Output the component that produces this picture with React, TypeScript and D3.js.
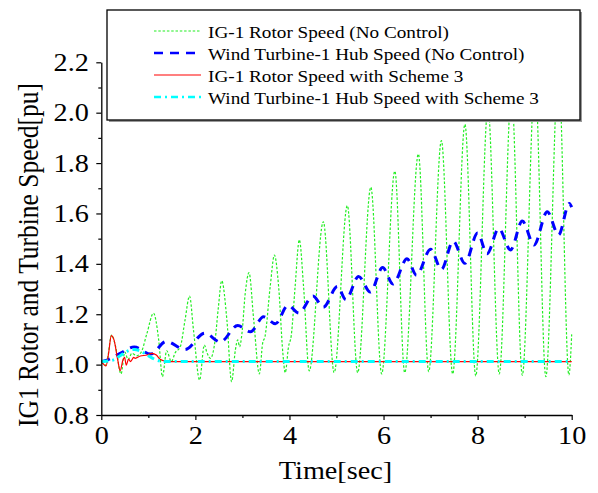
import React, { useEffect, useRef } from "react";
import * as d3 from "d3";

const W = 598;
const H = 493;

const xMajorTicks = [0, 2, 4, 6, 8, 10];
const xMinorTicks = [1, 3, 5, 7, 9];
const yMajorTicks = [0.8, 1.0, 1.2, 1.4, 1.6, 1.8, 2.0, 2.2];
const yMinorTicks = [0.9, 1.1, 1.3, 1.5, 1.7, 1.9, 2.1];

const xTitle = "Time[sec]";
const yTitle = "IG1 Rotor and Turbine Speed[pu]";

const seriesNames = [
  "IG-1 Rotor Speed (No Control)",
  "Wind Turbine-1 Hub Speed (No Control)",
  "IG-1 Rotor Speed with Scheme 3",
  "Wind Turbine-1 Hub Speed with Scheme 3",
];

// IG-1 rotor speed, no control [time, pu]
const rotorNoControl: [number, number][] = [
  [0, 1.012], [0.1, 0.998], [0.22, 1.117], [0.3, 1.075], [0.42, 0.963],
  [0.5, 1.05], [0.57, 1.02], [0.65, 1.045], [0.75, 1.035], [0.85, 1.05],
  [0.97, 1.124], [1.11, 1.204], [1.22, 1.098], [1.3, 0.952], [1.39, 1.055],
  [1.49, 1.012], [1.57, 1.047], [1.68, 1.071], [1.78, 1.177], [1.876, 1.272],
  [1.96, 1.137], [2.09, 0.939], [2.19, 1.078], [2.25, 1.045], [2.32, 1.025],
  [2.42, 1.098], [2.49, 1.23], [2.56, 1.333], [2.67, 1.177], [2.77, 0.932],
  [2.85, 1.058], [2.9, 1.098], [2.94, 1.071], [2.99, 1.124], [3.06, 1.283],
  [3.14, 1.365], [3.24, 1.177], [3.36, 0.963], [3.43, 1.085], [3.48, 1.111],
  [3.59, 1.309], [3.68, 1.435], [3.77, 1.309], [3.86, 1.045], [3.91, 0.968],
  [3.98, 1.071], [4.04, 1.118], [4.12, 1.309], [4.21, 1.495], [4.3, 1.309],
  [4.42, 0.975], [4.72, 1.567], [4.95, 0.968], [5.23, 1.631], [5.45, 0.968],
  [5.73, 1.704], [5.96, 0.963], [6.24, 1.768], [6.45, 0.968], [6.74, 1.836],
  [6.96, 0.972], [7.23, 1.889], [7.47, 0.963], [7.73, 1.954], [7.96, 0.955],
  [8.22, 2.02], [8.46, 0.963], [8.72, 2.08], [8.95, 0.958], [9.22, 2.13],
  [9.45, 0.952], [9.72, 2.18], [9.94, 0.959], [10.0, 1.12],
];

// Wind turbine-1 hub speed, no control
const hubNoControl: [number, number][] = [
  [0, 1.012], [0.15, 1.02], [0.4, 1.045], [0.7, 1.07], [1.05, 1.042],
  [1.38, 1.092], [1.78, 1.06], [2.2, 1.125], [2.53, 1.09], [2.9, 1.155],
  [3.17, 1.13], [3.45, 1.19], [3.7, 1.162], [3.97, 1.235], [4.2, 1.205],
  [4.5, 1.272], [4.72, 1.228], [5.02, 1.31], [5.2, 1.258], [5.47, 1.35],
  [5.72, 1.288], [5.98, 1.385], [6.2, 1.32], [6.5, 1.42], [6.7, 1.355],
  [7.0, 1.458], [7.23, 1.378], [7.48, 1.49], [7.73, 1.402], [8.0, 1.522],
  [8.2, 1.44], [8.45, 1.54], [8.7, 1.455], [8.95, 1.57], [9.2, 1.475],
  [9.48, 1.607], [9.72, 1.515], [9.95, 1.64], [10.0, 1.625],
];

// IG-1 rotor speed with scheme 3
const rotorScheme3: [number, number][] = [
  [0, 1.013], [0.1, 0.995], [0.155, 1.045], [0.212, 1.115], [0.27, 1.098],
  [0.35, 1.018], [0.4, 0.976], [0.46, 1.018], [0.495, 1.029], [0.53, 0.998],
  [0.58, 1.022], [0.62, 1.012], [0.69, 1.029], [0.72, 1.025], [0.83, 1.034],
  [0.97, 1.038], [1.08, 1.045], [1.17, 1.038], [1.25, 1.021], [1.36, 1.014],
  [1.5, 1.012], [10.0, 1.012],
];

// Wind turbine-1 hub speed with scheme 3
const hubScheme3: [number, number][] = [
  [0, 1.012], [0.25, 1.018], [0.4, 1.035], [0.55, 1.053], [0.7, 1.06],
  [0.85, 1.052], [1.0, 1.035], [1.15, 1.02], [1.3, 1.013], [1.5, 1.012],
  [10.0, 1.012],
];

const allSeries = [rotorNoControl, hubNoControl, rotorScheme3, hubScheme3];
const colors = ["#22ee22", "#0000ff", "#ff0000", "#00ffff"];
const widths = [1.2, 3, 1.2, 3];
const dashes = ["2.5,1.8", "9,7", "none", "7,4,2,4"];

const FONT = "'Liberation Serif', 'Times New Roman', Times, serif";
const SX = 1.13; // horizontal stretch of the original figure's lettering

export default function App() {
  const xAxisRef = useRef<SVGGElement>(null);
  const xMinorRef = useRef<SVGGElement>(null);
  const yAxisRef = useRef<SVGGElement>(null);
  const yMinorRef = useRef<SVGGElement>(null);

  const x = d3.scaleLinear().domain([0, 10]).range([101.3, 571.7]);
  const y = d3.scaleLinear().domain([0.8, 2.2]).range([415, 62.3]);

  const line = d3
    .line<[number, number]>()
    .x((d) => x(d[0]))
    .y((d) => y(d[1]))
    .curve(d3.curveMonotoneX);

  useEffect(() => {
    const style = (g: d3.Selection<SVGGElement, unknown, null, undefined>) => {
      g.attr("font-family", FONT).attr("font-size", 25);
      g.selectAll(".domain").attr("stroke", "#000").attr("stroke-width", 1.3);
      g.selectAll(".tick line").attr("stroke", "#000").attr("stroke-width", 1.2);
      g.selectAll(".tick text")
        .attr("font-family", FONT)
        .attr("font-size", 25)
        .attr("fill", "#000")
        .attr("transform", `scale(${SX},1)`);
    };
    const xa = d3.select(xAxisRef.current!);
    xa.call(
      d3.axisBottom(x).tickValues(xMajorTicks).tickFormat(d3.format("d")).tickSize(5).tickSizeOuter(0).tickPadding(6)
    );
    style(xa);
    const xm = d3.select(xMinorRef.current!);
    xm.call(d3.axisBottom(x).tickValues(xMinorTicks).tickFormat(() => "").tickSize(3).tickSizeOuter(0));
    xm.select(".domain").remove();
    style(xm);

    const ya = d3.select(yAxisRef.current!);
    ya.call(
      d3.axisLeft(y).tickValues(yMajorTicks).tickFormat(d3.format(".1f")).tickSize(5).tickSizeOuter(0).tickPadding(6)
    );
    style(ya);
    const ym = d3.select(yMinorRef.current!);
    ym.call(d3.axisLeft(y).tickValues(yMinorTicks).tickFormat(() => "").tickSize(3).tickSizeOuter(0));
    ym.select(".domain").remove();
    style(ym);
  }, []);

  const legendX = 107;
  const legendY = 10;
  const legendW = 473;
  const legendH = 110;
  const rowY = [31, 53, 75, 97];

  return (
    <svg
      width={W}
      height={H}
      style={{ position: "absolute", left: 0, top: 0, display: "block", background: "#fff" }}
    >
      <rect x={0} y={0} width={W} height={H} fill="#fff" />
      {allSeries.map((s, i) => (
        <path
          key={i}
          d={line(s) || ""}
          fill="none"
          stroke={colors[i]}
          strokeWidth={widths[i]}
          strokeDasharray={dashes[i]}
          strokeLinejoin="round"
        />
      ))}
      <g ref={xAxisRef} transform={`translate(0,${y(0.8)})`} />
      <g ref={xMinorRef} transform={`translate(0,${y(0.8)})`} />
      <g ref={yAxisRef} transform={`translate(${x(0)},0)`} />
      <g ref={yMinorRef} transform={`translate(${x(0)},0)`} />

      <text
        transform={`translate(${x(5) - 1},479) scale(${SX},1)`}
        textAnchor="middle"
        fontFamily={FONT}
        fontSize={25}
        fill="#000"
      >
        {xTitle}
      </text>
      <text
        transform={`translate(38,255) rotate(-90) scale(1,${SX})`}
        textAnchor="middle"
        fontFamily={FONT}
        fontSize={25.5}
        fill="#000"
      >
        {yTitle}
      </text>

      <g>
        <rect x={legendX + 2} y={legendY + 2} width={legendW} height={legendH} fill="#999" />
        <rect x={legendX} y={legendY} width={legendW} height={legendH} fill="#fff" stroke="#000" strokeWidth={1.3} />
        {seriesNames.map((name, i) => (
          <g key={name}>
            <line
              x1={154}
              x2={201}
              y1={rowY[i]}
              y2={rowY[i]}
              stroke={colors[i]}
              strokeWidth={i % 2 === 1 ? 2.5 : 1.2}
              strokeDasharray={dashes[i]}
            />
            <text
              transform={`translate(208,${rowY[i] + 6.5}) scale(${SX},1)`}
              fontFamily={FONT}
              fontSize={17}
              fill="#000"
            >
              {name}
            </text>
          </g>
        ))}
      </g>
    </svg>
  );
}
